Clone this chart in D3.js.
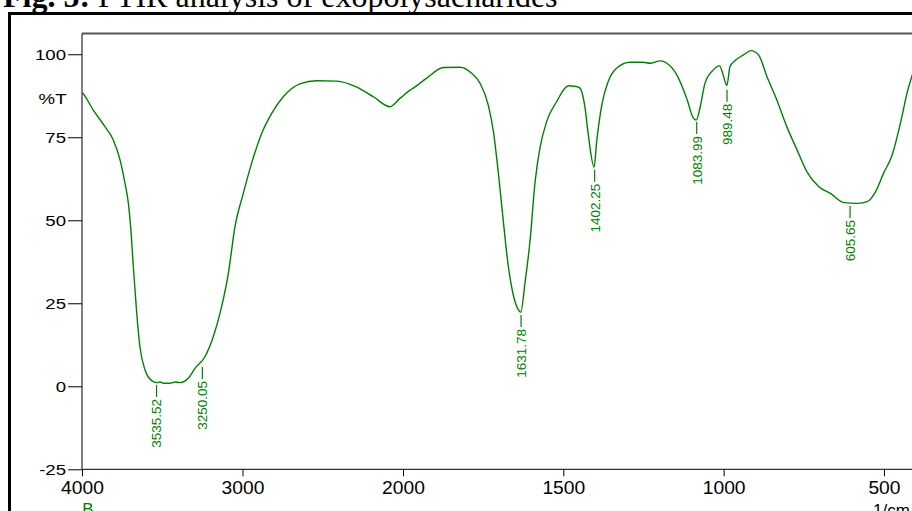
<!DOCTYPE html>
<html>
<head>
<meta charset="utf-8">
<title>FTIR analysis of exopolysacharides</title>
<script src="https://cdn.jsdelivr.net/npm/d3@7"></script>
<style>
  body { margin: 0; background: #fff; }
  svg { display: block; }
</style>
</head>
<body>
<div id="chart"></div>
<script>
// spectrum: wavenumber (1/cm) and %T
var wavenumbers = [4000, 3996, 3930, 3857, 3805, 3763, 3732, 3711, 3697, 3680, 3659, 3639, 3607, 3566, 3535, 3514, 3490, 3452, 3420, 3389, 3338, 3296, 3234, 3182, 3130, 3088, 3047, 2995, 2943, 2880, 2818, 2746, 2642, 2538, 2413, 2288, 2185, 2081, 2019, 1978, 1968, 1926, 1874, 1822, 1786, 1760, 1734, 1718, 1703, 1687, 1672, 1656, 1640, 1633, 1619, 1604, 1588, 1573, 1552, 1521, 1484, 1460, 1448, 1432, 1422, 1404, 1396, 1380, 1360, 1334, 1292, 1251, 1230, 1198, 1177, 1146, 1115, 1094, 1085, 1073, 1058, 1032, 1013, 1003, 990, 980, 964, 938, 915, 891, 865, 834, 803, 771, 740, 703, 667, 625, 583, 552, 526, 501, 476, 444, 428, 413, 400];
var transmittance = [88.5, 88.3, 83.2, 78.2, 74.2, 68.2, 61.1, 55.1, 48.1, 36.0, 22.0, 11.9, 4.9, 1.7, 1.1, 1.3, 0.9, 0.9, 1.3, 1.1, 2.4, 5.4, 8.9, 14.9, 24.0, 34.0, 48.1, 58.1, 67.2, 76.2, 82.2, 87.2, 91.1, 92.0, 91.9, 90.1, 87.2, 84.2, 86.7, 89.2, 89.8, 92.8, 96.0, 96.1, 94.3, 91.3, 84.7, 76.7, 64.6, 49.6, 36.5, 27.5, 23.0, 22.3, 31.5, 43.6, 61.6, 71.7, 79.7, 85.7, 90.5, 90.3, 89.8, 83.7, 75.7, 66.0, 73.7, 84.7, 91.8, 95.8, 97.6, 97.6, 97.3, 98.0, 97.3, 93.8, 86.7, 80.7, 80.2, 84.2, 91.3, 95.3, 96.5, 94.3, 90.6, 96.3, 98.1, 99.8, 101.1, 99.8, 93.3, 86.2, 78.2, 71.2, 64.6, 60.1, 58.1, 55.3, 55.1, 55.6, 58.6, 64.2, 69.2, 81.2, 88.3, 93.3, 97];

// peak picks
var peakLabels = ["3535.52", "3250.05", "1631.78", "1402.25", "1083.99", "989.48", "605.65"];
var peakT = [1.0, 6.4, 22.1, 65.8, 80.2, 89.9, 54.9];

// axis ticks
var xMajor = [4000, 3000, 2000, 1500, 1000, 500];
var xMinor = [3800, 3600, 3400, 3200, 2800, 2600, 2400, 2200, 1900, 1800, 1700, 1600, 1400, 1300, 1200, 1100, 900, 800, 700, 600, 400];
var yMajor = [100, 75, 50, 25, 0, -25];
var yMinor = [105, 95, 90, 85, 80, 70, 65, 60, 55, 45, 40, 35, 30, 20, 15, 10, 5, -5, -10, -15, -20];

var width = 912, height = 511;
var green = "#008000";

var svg = d3.select("#chart").append("svg")
    .attr("width", width).attr("height", height);

svg.append("rect").attr("width", width).attr("height", height).attr("fill", "#fff");

// caption (cut off at the top)
var cap = svg.append("text")
    .attr("x", 3).attr("y", 7)
    .attr("font-family", "'Liberation Serif', 'Times New Roman', serif")
    .attr("font-size", 32).attr("fill", "#000");
cap.append("tspan").attr("font-weight", "bold").text("Fig. 5: ");
cap.append("tspan").text("FTIR analysis of exopolysacharides");

// outer frame
svg.append("rect")
    .attr("x", 9.5).attr("y", 13.5)
    .attr("width", 1000).attr("height", 600)
    .attr("fill", "none").attr("stroke", "#000").attr("stroke-width", 3);

// x is split: 4000-2000 at half the scale of 2000-400
var x = d3.scaleLinear().domain([4000, 2000, 400]).range([82, 403, 916]);
var y = d3.scaleLinear().domain([-25, 106.25]).range([469.3, 33.5]);

// plot top border
svg.append("line")
    .attr("x1", 82).attr("x2", width)
    .attr("y1", 33.5).attr("y2", 33.5)
    .attr("stroke", "#555").attr("stroke-width", 2);

var font = "'Liberation Sans', Arial, sans-serif";
var plain = function(d) { return String(d); }; // keep "-25" with a hyphen

// x axis
var gx = svg.append("g").attr("transform", "translate(0," + y(-25) + ")");
gx.call(d3.axisBottom(x).tickValues(xMinor).tickSize(4).tickFormat(""));
gx.call(d3.axisBottom(x).tickValues(xMajor).tickSize(7).tickFormat(plain));
gx.select(".domain").attr("d", "M82,0H" + width).attr("stroke", "#000");
gx.selectAll("text")
    .attr("font-family", font).attr("font-size", 17.5).attr("fill", "#000")
    .attr("y", 25).attr("dy", null)
    .attr("transform", "scale(1.1,1)");

// y axis
var yLabelSx = 1.2;
var gy = svg.append("g").attr("transform", "translate(82,0)");
gy.call(d3.axisLeft(y).tickValues(yMinor).tickSize(6).tickFormat(""));
gy.call(d3.axisLeft(y).tickValues(yMajor).tickSize(14).tickFormat(plain));
gy.select(".domain").attr("d", "M0," + y(-25) + "V33.5").attr("stroke", "#000");
gy.selectAll("text")
    .attr("font-family", font).attr("font-size", 15.5).attr("fill", "#000")
    .attr("x", -16 / yLabelSx).attr("dy", "0.36em")
    .attr("transform", "scale(" + yLabelSx + ",1)");
svg.selectAll(".tick line").attr("stroke", "#000");
svg.selectAll(".domain").attr("stroke-width", 1);

svg.append("text")
    .attr("transform", "translate(66.5,98) scale(" + yLabelSx + ",1)")
    .attr("text-anchor", "end").attr("dy", "0.36em")
    .attr("font-family", font).attr("font-size", 15.5)
    .text("%T");

// spectrum
var pts = wavenumbers.map(function(w, i) { return [w, transmittance[i]]; });
var line = d3.line()
    .x(function(d) { return x(d[0]); })
    .y(function(d) { return y(d[1]); })
    .curve(d3.curveMonotoneX);

svg.append("defs").append("clipPath").attr("id", "plotclip")
  .append("rect").attr("x", 82).attr("y", 33.5).attr("width", width - 82).attr("height", y(-25) - 33.5);

svg.append("path")
    .datum(pts)
    .attr("clip-path", "url(#plotclip)")
    .attr("d", line)
    .attr("fill", "none")
    .attr("stroke", green)
    .attr("stroke-width", 1.4);

// peak markers
var peaks = svg.append("g").selectAll("g")
    .data(peakLabels)
    .join("g")
    .attr("transform", function(d, i) {
        return "translate(" + x(+d) + "," + (y(peakT[i]) + 2) + ")";
    });
peaks.append("line")
    .attr("y2", 12)
    .attr("stroke", green).attr("stroke-width", 1.2);
peaks.append("text")
    .attr("transform", "translate(0,14) rotate(-90)")
    .attr("text-anchor", "end").attr("dy", "0.36em")
    .attr("font-family", font).attr("font-size", 13.5)
    .attr("fill", green)
    .text(function(d) { return d; });

// corner labels
svg.append("text")
    .attr("x", 88).attr("y", 515).attr("text-anchor", "middle")
    .attr("font-family", font).attr("font-size", 17).attr("fill", green)
    .text("B");
svg.append("text")
    .attr("x", 873).attr("y", 516)
    .attr("font-family", font).attr("font-size", 17).attr("fill", "#000")
    .text("1/cm");
</script>
</body>
</html>
